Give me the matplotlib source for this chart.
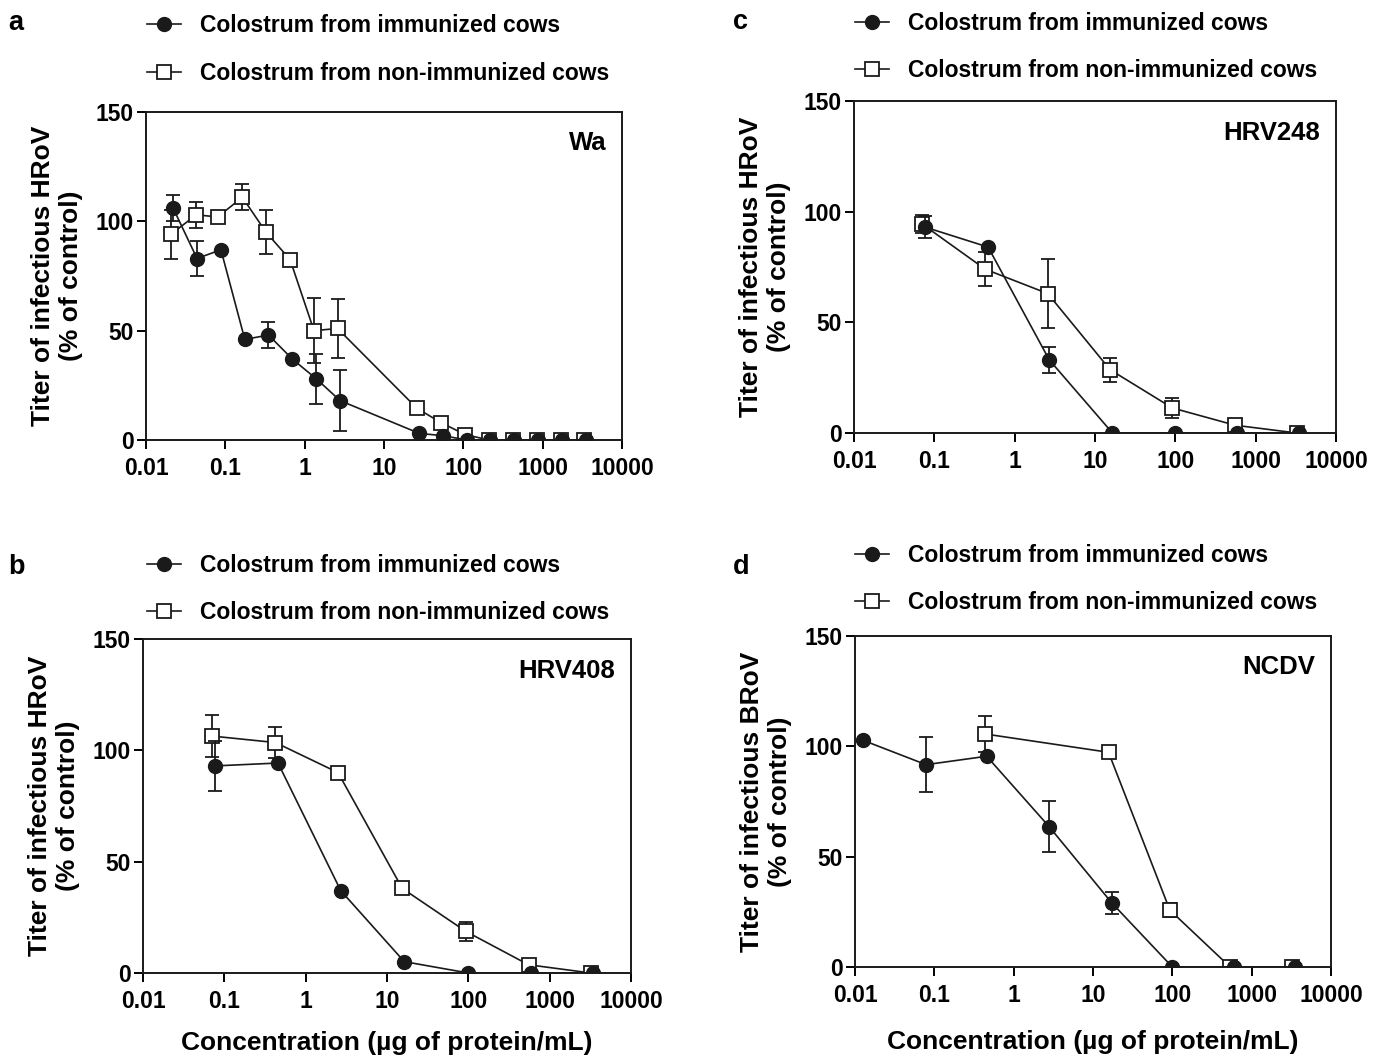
import matplotlib
matplotlib.use("Agg")
import matplotlib.pyplot as plt
import numpy as np

plt.rcParams["font.family"] = ["Liberation Sans", "DejaVu Sans"]
plt.rcParams["font.weight"] = "bold"

# ---- data ----
# panel a (Wa)
a_imm_x = [0.022, 0.044, 0.088, 0.176, 0.35, 0.70, 1.4, 2.8, 28, 55, 110, 220, 440, 880, 1760, 3520]
a_imm_y = [106, 83, 87, 46, 48, 37, 28, 18, 3, 2, 0, 0, 0, 0, 0, 0]
a_imm_e = [6, 8, 0, 0, 6, 0, 11.5, 14, 0, 0, 0, 0, 0, 0, 0, 0]
a_non_x = [0.0205, 0.043, 0.080, 0.164, 0.326, 0.655, 1.31, 2.6, 26, 52, 105, 210, 420, 840, 1680, 3360]
a_non_y = [94, 103, 102, 111, 95, 82.5, 50, 51, 14.5, 8, 2.5, 0, 0, 0, 0, 0]
a_non_e = [11, 6, 0, 6, 10, 0, 15, 13.5, 0, 0, 0, 0, 0, 0, 0, 0]

# panel b (HRV408)
b_imm_x = [0.076, 0.457, 2.7, 16.3, 100, 590, 3430]
b_imm_y = [93, 94.3, 37, 5.1, 0, 0, 0]
b_imm_e = [11.4, 0, 0, 0, 0, 0, 0]
b_non_x = [0.071, 0.425, 2.5, 15.4, 93, 550, 3220]
b_non_y = [106.4, 103.5, 90, 38, 18.7, 3.7, 0]
b_non_e = [9.3, 7, 0, 0, 4.3, 0, 0]

# panel c (HRV248)
c_imm_x = [0.077, 0.467, 2.7, 16.5, 100, 583, 3510]
c_imm_y = [93, 84, 33, 0, 0, 0, 0]
c_imm_e = [5, 0, 6, 0, 0, 0, 0]
c_non_x = [0.070, 0.43, 2.58, 15.4, 92, 556, 3250]
c_non_y = [94.5, 74, 63, 28.6, 11.3, 3.5, 0]
c_non_e = [4, 7.7, 15.5, 5.5, 4.5, 0, 0]

# panel d (NCDV)
d_imm_x = [0.0127, 0.0786, 0.457, 2.8, 17.3, 100, 605, 3540]
d_imm_y = [102.7, 91.7, 95.5, 63.6, 29, 0, 0, 0]
d_imm_e = [0, 12.6, 0, 11.5, 5, 0, 0, 0]
d_non_x = [0.436, 15.7, 93, 535, 3250]
d_non_y = [105.6, 97.3, 25.8, 0, 0]
d_non_e = [8, 0, 3, 0, 0]

xticks = [0.01, 0.1, 1, 10, 100, 1000, 10000]
xtick_labels = ["0.01", "0.1", "1", "10", "100", "1000", "10000"]
yticks = [0, 50, 100, 150]

W, H = 1397, 1055
fig = plt.figure(figsize=(W / 100, H / 100), dpi=100)
INK = "#1a1a1a"


def box(l, t, r, b):
    return [l / W, 1 - b / H, (r - l) / W, (b - t) / H]


def panel(rect, letter, letter_xy, name, ylab, imm, non, leg_xy, xlabel=False, xlabpad=12):
    ax = fig.add_axes(box(*rect))
    ln = ax.errorbar(non[0], non[1], yerr=non[2], fmt="s-", color=INK,
                     mfc="white", mec=INK, ms=10.5, mew=1.3, lw=1.2,
                     elinewidth=1.3, capsize=5, capthick=1.3, zorder=2)
    lc = ax.errorbar(imm[0], imm[1], yerr=imm[2], fmt="o-", color=INK,
                     mfc=INK, ms=10, lw=1.2, elinewidth=1.3,
                     capsize=5, capthick=1.3, zorder=3)
    ax.set_xscale("log")
    ax.set_xlim(0.01, 10000)
    ax.set_ylim(0, 150)
    ax.set_xticks(xticks)
    ax.set_xticklabels(xtick_labels)
    ax.minorticks_off()
    ax.set_yticks(yticks)
    ax.tick_params(direction="out", length=6.5, width=1.4, labelsize=16.5)
    ax.tick_params(axis="x", pad=5.5)
    ax.tick_params(axis="y", pad=2.5)
    for s in ax.spines.values():
        s.set_linewidth(1.4)
        s.set_color(INK)
    ax.set_ylabel(ylab, fontsize=19, fontweight="bold", linespacing=1.2, labelpad=9)
    if xlabel:
        ax.set_xlabel("Concentration (µg of protein/mL)", fontsize=19,
                      fontweight="bold", labelpad=xlabpad)
    ax.text(0.967, 0.905, name, transform=ax.transAxes, ha="right", va="center",
            fontsize=18.5, fontweight="bold")
    fig.text(letter_xy[0] / W, 1 - letter_xy[1] / H, letter, fontsize=19.5,
             fontweight="bold", ha="left", va="baseline")
    fig.legend([lc[0], ln[0]],
               ["Colostrum from immunized cows", "Colostrum from non-immunized cows"],
               loc="center left", bbox_to_anchor=(leg_xy[0] / W, 1 - leg_xy[1] / H),
               frameon=False, handlelength=1.5, handletextpad=0.8,
               labelspacing=1.08, borderaxespad=0, borderpad=0,
               prop={"weight": "bold", "size": 16.5})
    return ax


panel((146, 112, 622, 440), "a", (8, 30), "Wa", "Titer of infectious HRoV\n(% of control)",
      (a_imm_x, a_imm_y, a_imm_e), (a_non_x, a_non_y, a_non_e), (147, 49.5))
panel((143, 639, 631, 973), "b", (8, 574), "HRV408", "Titer of infectious HRoV\n(% of control)",
      (b_imm_x, b_imm_y, b_imm_e), (b_non_x, b_non_y, b_non_e), (147, 589), xlabel=True, xlabpad=13)
panel((854, 101, 1336, 433), "c", (733, 29), "HRV248", "Titer of infectious HRoV\n(% of control)",
      (c_imm_x, c_imm_y, c_imm_e), (c_non_x, c_non_y, c_non_e), (855, 47))
panel((855, 636, 1331, 967), "d", (733, 574), "NCDV", "Titer of infectious BRoV\n(% of control)",
      (d_imm_x, d_imm_y, d_imm_e), (d_non_x, d_non_y, d_non_e), (855, 579), xlabel=True, xlabpad=17)

fig.savefig("out.png", dpi=100)
